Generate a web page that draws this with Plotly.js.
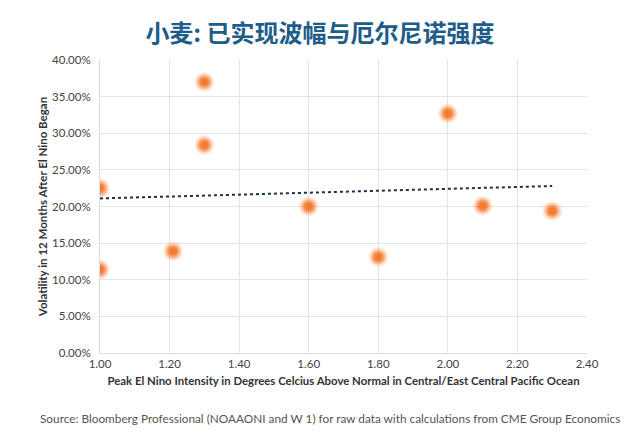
<!DOCTYPE html>
<html>
<head>
<meta charset="utf-8">
<script src="https://cdn.plot.ly/plotly-3.0.1.min.js"></script>
<style>html,body{margin:0;padding:0;background:#fff;}#chart{width:640px;height:444px;}</style>
</head>
<body>
<div id="chart"></div>
<script>
// Peak El Nino intensity (°C above normal)
const intensity = [1.00, 1.00, 1.21, 1.30, 1.30, 1.60, 1.80, 2.00, 2.10, 2.30];
// Realized wheat volatility in 12 months after El Nino began (%)
const volatility = [22.5, 11.4, 13.9, 37.0, 28.4, 20.0, 13.1, 32.7, 20.1, 19.4];
// Linear trendline endpoints
const trendX = [1.00, 2.30];
const trendY = [21.1, 22.8];
const xTicks = [1.0, 1.2, 1.4, 1.6, 1.8, 2.0, 2.2, 2.4];
const xTickLabels = ["1.00", "1.20", "1.40", "1.60", "1.80", "2.00", "2.20", "2.40"];
const yTicks = [0, 5, 10, 15, 20, 25, 30, 35, 40];
const yTickLabels = ["0.00%", "5.00%", "10.00%", "15.00%", "20.00%", "25.00%", "30.00%", "35.00%", "40.00%"];

const font = "Lato, 'Open Sans', sans-serif";

// soft "glow" marker made from stacked translucent circles
const glowLayers = [[20, 0.12], [17, 0.2], [14, 0.32], [11, 0.48], [8, 0.65], [5, 0.7]];

const traces = [
  {
    x: trendX, y: trendY, mode: "lines", type: "scatter",
    line: {color: "#1c2f4a", width: 2, dash: "dot"}, hoverinfo: "skip"
  }
].concat(glowLayers.map(([s, a]) => ({
  x: intensity, y: volatility, mode: "markers", type: "scatter",
  marker: {size: s, color: `rgba(243,118,42,${a})`, line: {width: 0}},
  hoverinfo: "skip"
})));

const layout = {
  width: 640, height: 444,
  margin: {l: 100, r: 53, t: 60, b: 91},
  paper_bgcolor: "#fff", plot_bgcolor: "#fff",
  showlegend: false,
  font: {family: font, color: "#444", size: 11},
  title: {
    text: "<b>小麦: 已实现波幅与厄尔尼诺强度</b>",
    font: {family: "'Noto Sans CJK SC', sans-serif", size: 24, color: "#1e5c8a"},
    x: 0.5, xanchor: "center", y: 0.925, yanchor: "middle"
  },
  xaxis: {
    range: [1.0, 2.4], tickvals: xTicks, ticktext: xTickLabels,
    showgrid: true, gridcolor: "#e4e4e8", gridwidth: 1,
    zeroline: false, showline: true, linecolor: "#dcdce0", linewidth: 1,
    ticks: "", tickfont: {size: 11.5, color: "#444", family: font},
    title: {text: "<b>Peak El Nino Intensity in Degrees Celcius Above Normal in Central/East Central Pacific Ocean</b>",
            font: {size: 11.4, color: "#333", family: font}, standoff: 8},
    fixedrange: true
  },
  yaxis: {
    range: [0, 40], tickvals: yTicks, ticktext: yTickLabels,
    showgrid: true, gridcolor: "#e4e4e8", gridwidth: 1,
    zeroline: false, showline: true, linecolor: "#dcdce0", linewidth: 1,
    ticks: "", ticklabelstandoff: 6, tickfont: {size: 11.5, color: "#444", family: font},
    title: {text: "<b>Volatility in 12 Months After El Nino Began</b>",
            font: {size: 11.5, color: "#333", family: font}, standoff: 2},
    fixedrange: true
  },
  annotations: [{
    text: "Source: Bloomberg Professional (NOAAONI and W 1) for raw data with calculations from CME Group Economics",
    xref: "paper", yref: "paper", x: 0.5, y: -0.222, xanchor: "center", yanchor: "middle",
    xshift: -14, showarrow: false, font: {size: 11.8, color: "#555", family: font}
  }]
};

Plotly.newPlot("chart", traces, layout, {displayModeBar: false, staticPlot: true});
</script>
</body>
</html>
